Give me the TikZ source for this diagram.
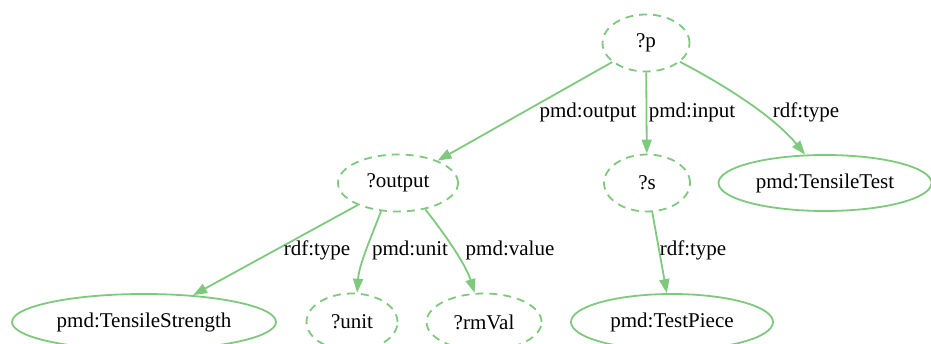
\documentclass[tikz,border=0pt]{standalone}
\usepackage{fontspec}
\setmainfont{Liberation Serif}
\usetikzlibrary{shapes.geometric,arrows.meta}
\definecolor{gv}{HTML}{7FC97F}
\begin{document}
\begin{tikzpicture}[x=1pt,y=1pt,
  every node/.style={font=\fontsize{21}{24}\selectfont},
  var/.style={ellipse, draw=gv, line width=1.8pt, dash pattern=on 8pt off 6pt, minimum height=57pt, inner sep=0pt},
  cls/.style={ellipse, draw=gv, line width=1.8pt, minimum height=56pt, inner sep=0pt},
  edge/.style={draw=gv, line width=1.8pt, -{Triangle[length=14pt,width=10pt]}},
  lbl/.style={inner sep=0pt}]
\useasboundingbox (0,0) rectangle (931,-344);
\node[var, minimum width=87pt] (p) at (646,-43) {?p};
\node[var, minimum width=120pt] (output) at (398,-183) {?output};
\node[var, minimum width=86pt] (s) at (647,-183) {?s};
\node[cls, minimum width=213pt] (tt) at (825,-183) {pmd:TensileTest};
\node[cls, minimum width=264pt] (ts) at (144,-322) {pmd:TensileStrength};
\node[var, minimum width=91pt] (unit) at (352,-322) {?unit};
\node[var, minimum width=115pt] (rm) at (484,-322) {?rmVal};
\node[cls, minimum width=202pt] (tp) at (672,-322) {pmd:TestPiece};

\draw[edge] (p) -- (output);
\draw[edge] (p) -- (s);
\draw[edge] (p.331) .. controls (730,-88) and (775,-118) .. (tt.125);
\draw[edge] (output) -- (ts);
\draw[edge] (output.239) .. controls (370,-240) and (359,-265) .. (unit.80);
\draw[edge] (output.316) .. controls (440,-228) and (465,-262) .. (rm.108);
\draw[edge] (s) -- (tp);

\node[lbl] (l1) at (588,-112) {pmd:output};
\node[lbl] (l2) at (692,-112) {pmd:input};
\node[lbl] (l3) at (806,-112) {rdf:type};
\node[lbl] (l4) at (317,-250) {rdf:type};
\node[lbl] (l5) at (410,-250) {pmd:unit};
\node[lbl] (l6) at (510,-250) {pmd:value};
\node[lbl] (l7) at (693,-250) {rdf:type};
\end{tikzpicture}
\end{document}
